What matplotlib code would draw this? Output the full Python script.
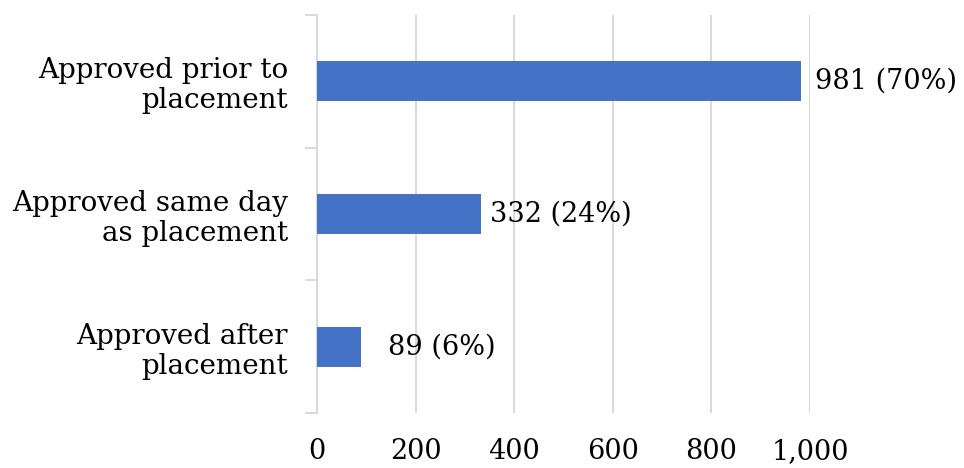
import matplotlib.pyplot as plt
from matplotlib.ticker import FuncFormatter

categories = ["Approved prior to\nplacement",
              "Approved same day\nas placement",
              "Approved after\nplacement"]
counts = [981, 332, 89]
shares = [70, 24, 6]
x_ticks = [0, 200, 400, 600, 800, 1000]

bar_color = "#4472C4"
grid_color = "#D9D9D9"

plt.rcParams["font.family"] = ["DejaVu Serif"]

fig = plt.figure(figsize=(9.64, 4.68), dpi=100)
ax = fig.add_axes([0.3288, 0.1175, 0.5114, 0.8505])

ypos = list(range(len(categories)))
ax.barh(ypos, counts, height=0.3, color=bar_color, zorder=3)

# value labels
pads = [14, 9, 27]
for y, c, s, p in zip(ypos, counts, shares, pads):
    ax.annotate(f"{c} ({s}%)", xy=(c, y), xytext=(p * 0.72, 0),
                textcoords="offset points", va="center", ha="left",
                fontsize=19.5, color="black")

ax.set_xlim(0, 1000)
ax.set_ylim(2.5, -0.5)
ax.set_xticks(x_ticks)
ax.xaxis.set_major_formatter(FuncFormatter(lambda v, _: f"{int(v):,}"))
ax.grid(axis="x", color=grid_color, linewidth=1.4, zorder=0)

ax.set_yticks(ypos)
ax.set_yticklabels(categories, fontsize=20, ha="right", linespacing=1.15,
                   color="black")
ax.set_yticks([-0.5, 0.5, 1.5, 2.5], minor=True)
ax.tick_params(axis="y", which="major", length=0, pad=21)
ax.tick_params(axis="y", which="minor", length=9, color=grid_color, width=1.4)
ax.tick_params(axis="x", length=0, pad=18, labelsize=19.5, labelcolor="black")

for side in ["top", "right", "bottom"]:
    ax.spines[side].set_visible(False)
ax.spines["left"].set_color(grid_color)
ax.spines["left"].set_linewidth(1.4)

fig.savefig("out.png", dpi=100)
